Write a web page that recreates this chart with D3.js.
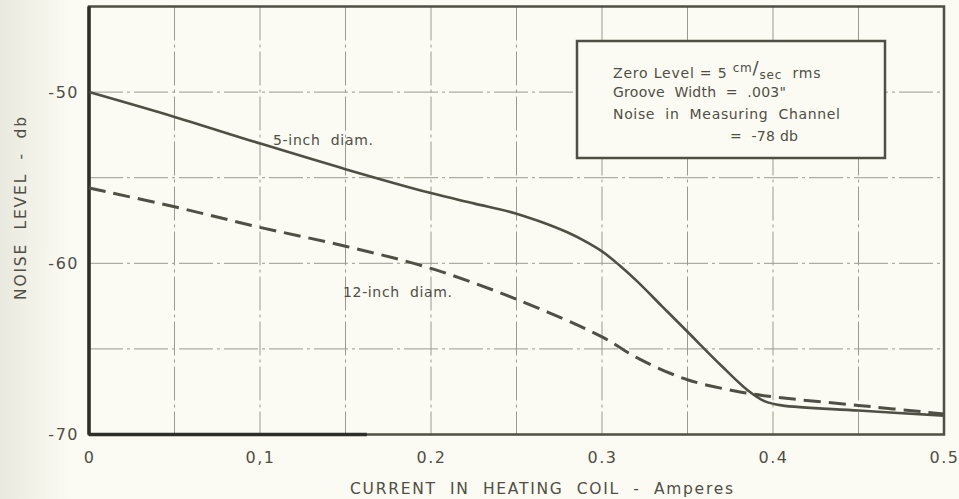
<!DOCTYPE html>
<html>
<head>
<meta charset="utf-8">
<script src="https://cdn.jsdelivr.net/npm/d3@7"></script>
<style>
  body { margin: 0; background: #fbfbf3; }
  svg { display: block; font-family: "DejaVu Sans", sans-serif; }
  text { white-space: pre; }
</style>
</head>
<body>
<svg class="chart" width="959" height="499"></svg>
<script>
// currents (amperes) and noise levels (db)
const current5 = [0, 0.05, 0.1, 0.15, 0.2, 0.225, 0.25, 0.265, 0.28, 0.29, 0.3, 0.31, 0.32, 0.335, 0.35, 0.37, 0.385, 0.395, 0.405, 0.45, 0.5]
const noise5   = [-50, -51.45, -53.0, -54.5, -55.9, -56.5, -57.1, -57.6, -58.2, -58.7, -59.3, -60.1, -61.0, -62.5, -64.0, -66.0, -67.4, -68.05, -68.3, -68.6, -68.9]

const current12 = [0, 0.05, 0.1, 0.15, 0.2, 0.25, 0.3, 0.322, 0.35, 0.38, 0.4, 0.45, 0.5]
const noise12   = [-55.6, -56.7, -57.9, -59.0, -60.3, -62.1, -64.3, -65.6, -66.8, -67.5, -67.8, -68.3, -68.8]

const xTicks = [0, 0.1, 0.2, 0.3, 0.4, 0.5]
const xTickLabels = ['0', '0,1', '0.2', '0.3', '0.4', '0.5']
const yTicks = [-70, -60, -50]
const yTickLabels = ['-70', '-60', '-50']
const xGrid = [0.05, 0.1, 0.15, 0.2, 0.25, 0.3, 0.35, 0.4, 0.45]
const yGrid = [-65, -60, -55, -50]

const noteLines = ['Groove  Width  =  .003"', 'Noise  in  Measuring  Channel', '=  -78 db']

let svg = d3.select('svg.chart')
let ink = '#4f4f45'

let x = d3.scaleLinear().domain([0, 0.5]).range([89, 944])
let y = d3.scaleLinear().domain([-70, -45]).range([434.5, 6.5])

// scanned-paper shading on the left edge
let defs = svg.append('defs')
let grad = defs.append('linearGradient').attr('id', 'paper')
grad.append('stop').attr('offset', '0%').attr('stop-color', '#e9e9df')
grad.append('stop').attr('offset', '100%').attr('stop-color', '#fbfbf3')
svg.append('rect').attr('width', 959).attr('height', 499).attr('fill', '#fbfbf3')
svg.append('rect').attr('width', 70).attr('height', 499).attr('fill', 'url(#paper)')

// grid
let grid = svg.append('g')
    .attr('stroke', '#9a9a90')
    .attr('stroke-width', 1)
    .attr('stroke-dasharray', '34 4 3 4')
grid.selectAll('line.v')
  .data(xGrid)
  .enter().append('line')
    .attr('x1', d => x(d)).attr('x2', d => x(d))
    .attr('y1', y(-45)).attr('y2', y(-70))
grid.selectAll('line.h')
  .data(yGrid)
  .enter().append('line')
    .attr('x1', x(0)).attr('x2', x(0.5))
    .attr('y1', d => y(d)).attr('y2', d => y(d))

// note box
let box = svg.append('g')
box.append('rect')
    .attr('x', 577).attr('y', 41)
    .attr('width', 308).attr('height', 117)
    .attr('fill', '#fbfbf3')
    .attr('stroke', ink)
    .attr('stroke-width', 2.5)
let zero = box.append('text')
    .attr('x', 613).attr('y', 78)
    .attr('font-size', 14)
    .attr('letter-spacing', 0.8)
    .attr('fill', ink)
zero.append('tspan').text('Zero Level = 5 ')
zero.append('tspan').attr('dy', -6).attr('font-size', 12).text('cm')
zero.append('tspan').attr('dy', 2).attr('font-size', 18).text('/')
zero.append('tspan').attr('dy', 5).attr('font-size', 12).text('sec')
zero.append('tspan').attr('dy', -1).text('  rms')
box.selectAll('text.note')
  .data(noteLines)
  .enter().append('text')
    .attr('x', (d, i) => i == 2 ? 730 : 613)
    .attr('y', (d, i) => 97 + i * 22)
    .attr('font-size', 14)
    .attr('textLength', (d, i) => [173, 227, 68][i])
    .attr('lengthAdjust', 'spacing')
    .attr('fill', ink)
    .text(d => d)

// frame
svg.append('rect')
    .attr('x', x(0)).attr('y', y(-45))
    .attr('width', x(0.5) - x(0)).attr('height', y(-70) - y(-45))
    .attr('fill', 'none')
    .attr('stroke', ink)
    .attr('stroke-width', 2.5)
svg.append('line')
    .attr('x1', x(0)).attr('x2', x(0)).attr('y1', y(-45)).attr('y2', y(-70))
    .attr('stroke', '#2e2e28').attr('stroke-width', 3.5)
svg.append('line')
    .attr('x1', x(0)).attr('x2', x(0.1625)).attr('y1', y(-70)).attr('y2', y(-70))
    .attr('stroke', '#2e2e28').attr('stroke-width', 3.5)

// curves
let line = d3.line()
    .x(d => x(d[0]))
    .y(d => y(d[1]))
    .curve(d3.curveCatmullRom.alpha(0.5))

svg.append('path')
    .datum(d3.zip(current5, noise5))
    .attr('d', line)
    .attr('fill', 'none')
    .attr('stroke', ink)
    .attr('stroke-width', 2.6)

svg.append('path')
    .datum(d3.zip(current12, noise12))
    .attr('d', line)
    .attr('fill', 'none')
    .attr('stroke', ink)
    .attr('stroke-width', 3)
    .attr('stroke-dasharray', '17 8')

svg.append('text')
    .attr('x', 273).attr('y', 145)
    .attr('font-size', 14)
    .attr('textLength', 100).attr('lengthAdjust', 'spacing')
    .attr('fill', ink)
    .text('5-inch  diam.')
svg.append('text')
    .attr('x', 343).attr('y', 297)
    .attr('font-size', 14)
    .attr('textLength', 109).attr('lengthAdjust', 'spacing')
    .attr('fill', ink)
    .text('12-inch  diam.')

// axes
let xAxis = svg.append('g')
    .attr('transform', `translate(0, ${y(-70)})`)
    .call(d3.axisBottom(x).tickValues(xTicks).tickFormat((d, i) => xTickLabels[i]).tickSize(0).tickPadding(17))
let yAxis = svg.append('g')
    .attr('transform', `translate(${x(0)}, 0)`)
    .call(d3.axisLeft(y).tickValues(yTicks).tickFormat((d, i) => yTickLabels[i]).tickSize(0).tickPadding(10))
svg.selectAll('.domain').remove()
svg.selectAll('.tick text')
    .attr('font-family', '"DejaVu Sans", sans-serif')
    .attr('font-size', 16)
    .attr('letter-spacing', 1.5)
    .attr('fill', ink)

svg.append('text')
    .attr('x', 350).attr('y', 494)
    .attr('font-size', 15.5)
    .attr('textLength', 383).attr('lengthAdjust', 'spacing')
    .attr('fill', ink)
    .text('CURRENT  IN  HEATING  COIL  -  Amperes')
svg.append('text')
    .attr('transform', 'translate(26, 300) rotate(-90)')
    .attr('font-size', 15.5)
    .attr('textLength', 183).attr('lengthAdjust', 'spacing')
    .attr('fill', ink)
    .text('NOISE  LEVEL  -  db')
</script>
</body>
</html>
